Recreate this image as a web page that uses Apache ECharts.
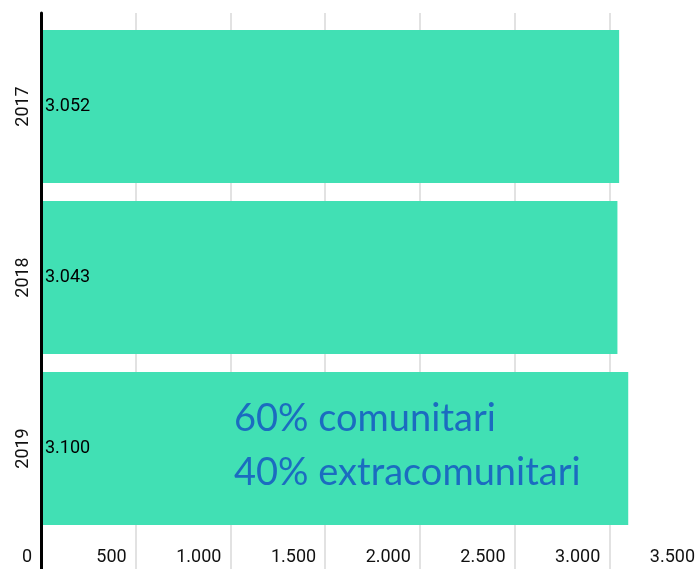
<!DOCTYPE html>
<html>
<head>
<meta charset="utf-8">
<script src="https://cdn.jsdelivr.net/npm/echarts@6/dist/echarts.min.js"></script>
<style>
  html, body { margin: 0; padding: 0; background: #fff; overflow: hidden; }
  #chart { width: 704px; height: 569px; }
</style>
</head>
<body>
<div id="chart"></div>
<script>
// Years shown on the vertical axis, top to bottom
const years = ['2017', '2018', '2019'];
// Total per year
const totals = [3052, 3043, 3100];
// Horizontal scale
const xMin = 0;
const xMax = 3500;
const xStep = 500;
// Annotation lines
const noteLines = ['60% comunitari', '40% extracomunitari'];

// Italian-style thousands separator: 3052 -> "3.052"
function fmt(v) {
  return String(v).replace(/\B(?=(\d{3})+(?!\d))/g, '.');
}

const chart = echarts.init(document.getElementById('chart'), null, { renderer: 'canvas' });

// the 3.500 gridline sits just past the visible right edge
const sharedX = { left: 41, right: 0 };

chart.setOption({
  animation: false,
  textStyle: { fontFamily: 'Roboto' },
  grid: [
    // full-height frame: gridlines, value labels and the black axis line
    Object.assign({ top: 13, bottom: 0 }, sharedX),
    // bar area
    Object.assign({ top: 21, bottom: 35 }, sharedX)
  ],
  xAxis: [
    {
      gridIndex: 0,
      type: 'value',
      min: xMin,
      max: xMax,
      interval: xStep,
      axisLine: { show: false },
      axisTick: { show: false },
      splitLine: { show: true, lineStyle: { color: '#d8d8d8', width: 1.5 } },
      axisLabel: {
        inside: true,
        margin: 3,
        align: 'right',
        padding: [0, 9, 0, 0],
        color: '#111',
        fontSize: 18,
        fontFamily: 'Roboto',
        formatter: fmt
      }
    },
    {
      gridIndex: 1,
      type: 'value',
      min: xMin,
      max: xMax,
      interval: xStep,
      show: false
    }
  ],
  yAxis: [
    {
      gridIndex: 0,
      type: 'value',
      min: 0,
      max: 1,
      z: 10,
      axisLine: { show: true, lineStyle: { color: '#000', width: 3 } },
      axisTick: { show: false },
      axisLabel: { show: false },
      splitLine: { show: false }
    },
    {
      gridIndex: 1,
      type: 'category',
      inverse: true,
      data: years,
      axisLine: { show: false },
      axisTick: { show: false },
      axisLabel: {
        rotate: 90,
        margin: 9,
        color: '#111',
        fontSize: 18,
        fontFamily: 'Roboto'
      }
    }
  ],
  series: [
    {
      type: 'bar',
      xAxisIndex: 1,
      yAxisIndex: 1,
      data: totals,
      barCategoryGap: '10.5%',
      itemStyle: { color: '#41e0b4' },
      label: {
        show: true,
        position: 'insideLeft',
        distance: 4,
        color: '#000',
        fontSize: 18,
        fontFamily: 'Roboto',
        formatter: (p) => fmt(p.value)
      }
    }
  ],
  graphic: [
    {
      type: 'text',
      left: 234,
      top: 392,
      z: 20,
      style: {
        text: noteLines.join('\n'),
        fill: '#1b6cc0',
        font: '38px Lato',
        lineHeight: 54
      }
    }
  ]
});
</script>
</body>
</html>
